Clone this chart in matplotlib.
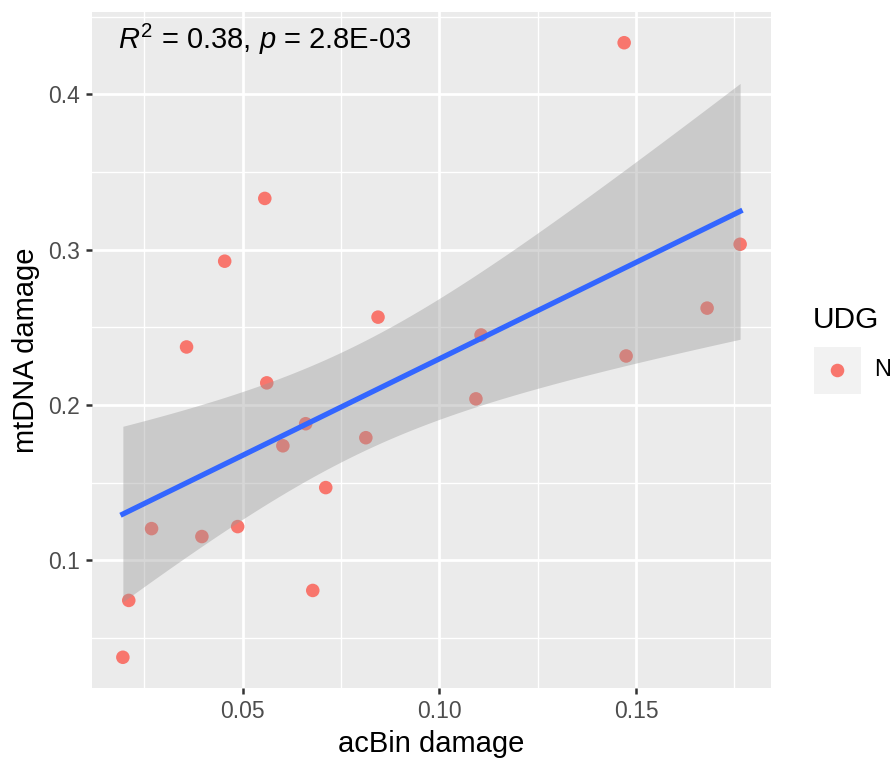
import numpy as np
import matplotlib.pyplot as plt
from matplotlib.ticker import MultipleLocator, FormatStrFormatter

plt.rcParams['font.family'] = ['Liberation Sans', 'DejaVu Sans']
plt.rcParams['mathtext.fontset'] = 'custom'
plt.rcParams['mathtext.rm'] = 'Liberation Sans'
plt.rcParams['mathtext.it'] = 'Liberation Sans:italic'

# acBin vs mtDNA damage per sample (all UDG = N)
acbin = [0.0195, 0.0210, 0.0268, 0.0396, 0.0487, 0.0357, 0.0454, 0.0556,
         0.0561, 0.0602, 0.0660, 0.0678, 0.0711, 0.0813, 0.0844, 0.1093,
         0.1106, 0.1470, 0.1475, 0.1681, 0.1765]
mtdna = [0.0377, 0.0743, 0.1205, 0.1154, 0.1218, 0.2374, 0.2926, 0.3330,
         0.2143, 0.1738, 0.1880, 0.0807, 0.1469, 0.1790, 0.2566, 0.2040,
         0.2451, 0.4332, 0.2316, 0.2624, 0.3035]
udg = ['N'] * len(acbin)
stat_label = r'$R^2$ = 0.38, $p$ = 2.8E-03'

x = np.array(acbin)
y = np.array(mtdna)

# linear fit with 95% confidence band (like geom_smooth(method = "lm"))
n = len(x)
slope, intercept = np.polyfit(x, y, 1)
resid = y - (slope * x + intercept)
s = np.sqrt(np.sum(resid ** 2) / (n - 2))
t_crit = 2.093  # t(0.975, df = 19)
xs = np.linspace(x.min(), x.max(), 80)
ys = slope * xs + intercept
se = s * np.sqrt(1 / n + (xs - x.mean()) ** 2 / np.sum((x - x.mean()) ** 2))

fig = plt.figure(figsize=(8.96, 7.59), dpi=100)
ax = fig.add_axes([92 / 896, 71 / 759, 679 / 896, 676 / 759])
ax.set_facecolor('#EBEBEB')
for sp in ax.spines.values():
    sp.set_visible(False)

ax.scatter(x, y, s=95, color='#F8766D', edgecolors='none', zorder=3)
ax.fill_between(xs, ys - t_crit * se, ys + t_crit * se, color='#999999',
                alpha=0.4, linewidth=0, zorder=4)
ax.plot(xs, ys, color='#3366FF', linewidth=3.8, zorder=5)

xr = x.max() - x.min()
yr = y.max() - y.min()
ax.set_xlim(x.min() - 0.05 * xr, x.max() + 0.05 * xr)
ax.set_ylim(y.min() - 0.05 * yr, y.max() + 0.05 * yr)

ax.xaxis.set_major_locator(MultipleLocator(0.05))
ax.xaxis.set_minor_locator(MultipleLocator(0.025))
ax.yaxis.set_major_locator(MultipleLocator(0.1))
ax.yaxis.set_minor_locator(MultipleLocator(0.05))
ax.xaxis.set_major_formatter(FormatStrFormatter('%.2f'))
ax.yaxis.set_major_formatter(FormatStrFormatter('%.1f'))
ax.grid(which='major', color='white', linewidth=2.0, zorder=0)
ax.grid(which='minor', color='white', linewidth=1.0, zorder=0)
ax.set_axisbelow(True)
ax.tick_params(which='major', length=4.5, width=1.8, color='#333333',
               labelsize=16.5, labelcolor='#4D4D4D', pad=4)
ax.tick_params(which='minor', length=0)

ax.set_xlabel('acBin damage', fontsize=21, labelpad=5)
ax.set_ylabel('mtDNA damage', fontsize=21, labelpad=6)

ax.text(0.038, 0.96, stat_label, transform=ax.transAxes, fontsize=21,
        ha='left', va='center')

# legend
fig.text(813 / 896, 1 - 320 / 759, 'UDG', fontsize=21.5, ha='left', va='center')
key = fig.add_axes([814 / 896, 1 - 394 / 759, 47 / 896, 47 / 759])
key.set_facecolor('#F2F2F2')
key.set_xlim(0, 1)
key.set_ylim(0, 1)
key.set_xticks([])
key.set_yticks([])
for sp in key.spines.values():
    sp.set_visible(False)
key.scatter([0.5], [0.5], s=95, color='#F8766D', edgecolors='none')
fig.text(874 / 896, 1 - 370 / 759, udg[0], fontsize=17, ha='left', va='center')

fig.savefig('out.png', dpi=100)
